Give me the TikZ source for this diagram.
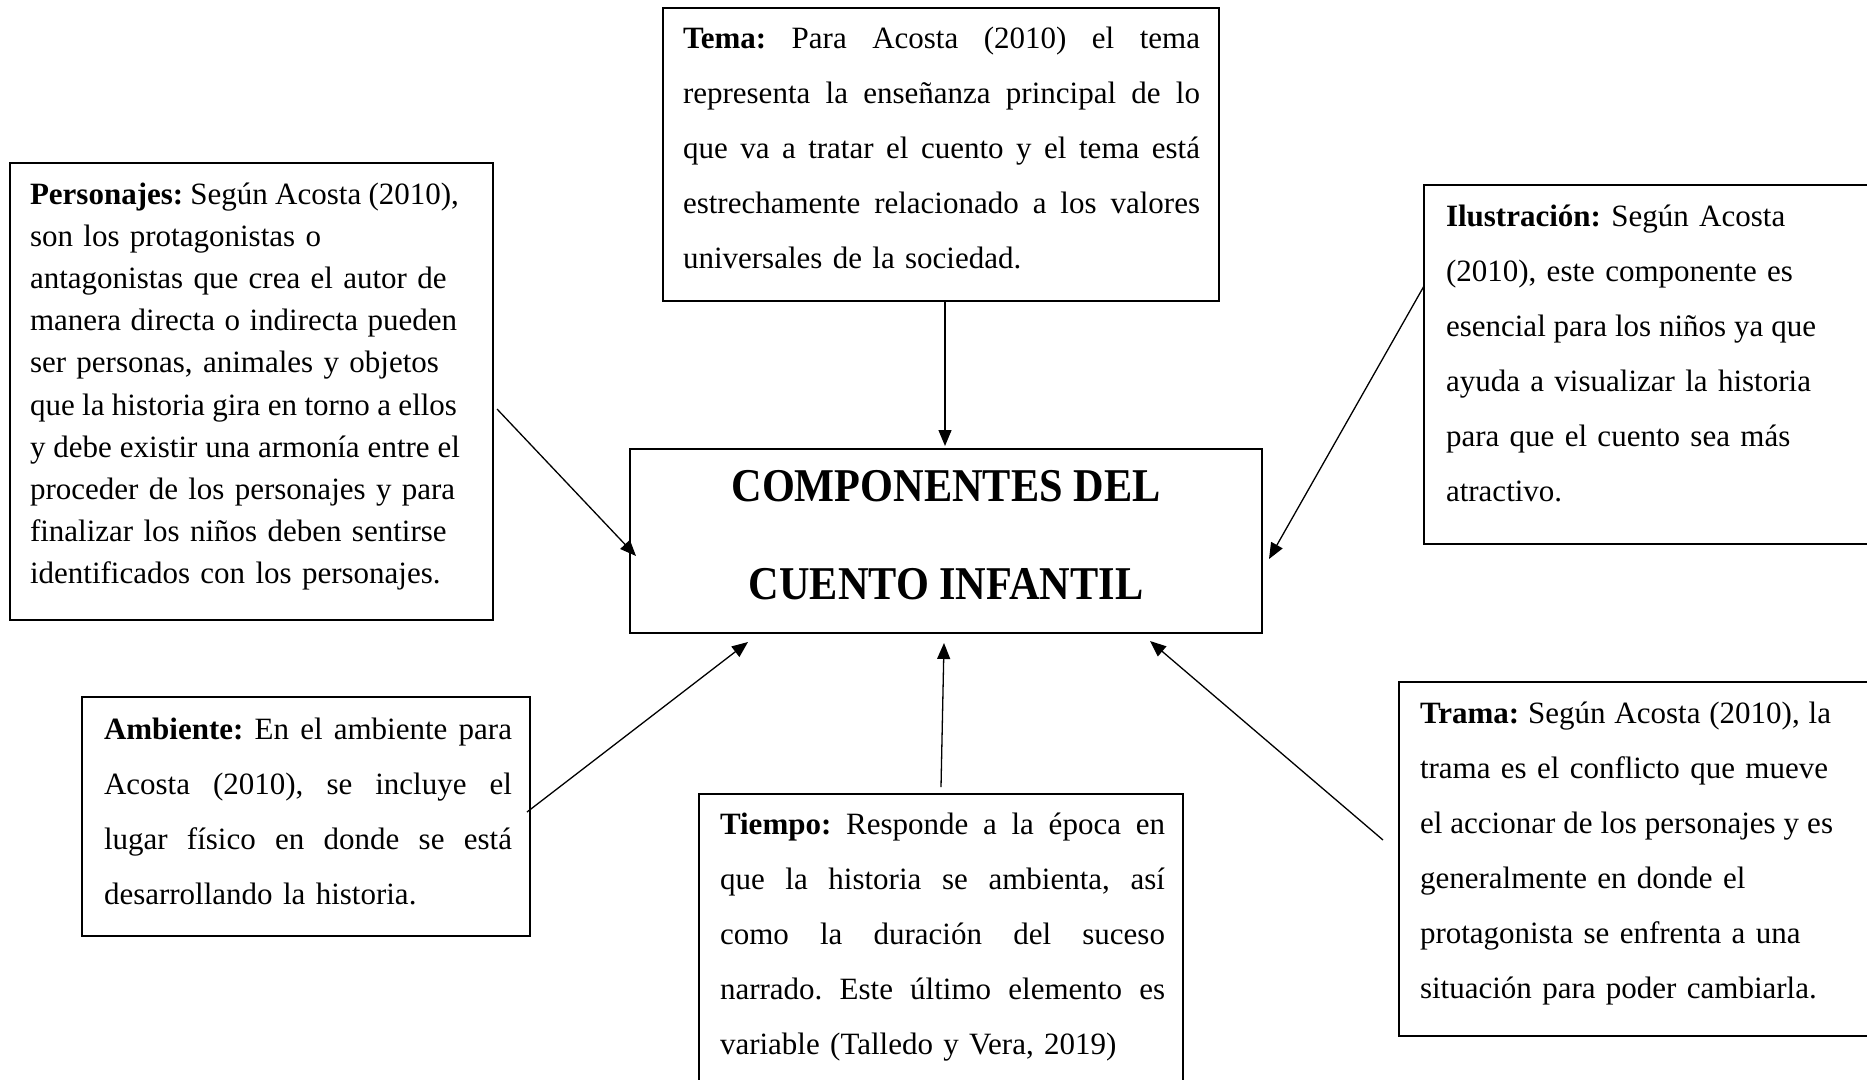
\documentclass[tikz,border=0pt]{standalone}
\usepackage{fontspec}
\usepackage{graphicx}
\setmainfont{Liberation Serif}
\usetikzlibrary{arrows.meta,calc}
\frenchspacing
\newcommand{\firstln}{\leavevmode\rule{0pt}{30pt}}
\newcommand{\jline}[2]{\leavevmode{\spaceskip=0pt plus 1fil\relax\hbox to #1{#2}}}
\begin{document}
\begin{tikzpicture}[x=1pt,y=-1pt,
  boxst/.style={draw=black,line width=1.3pt,inner sep=0pt,outer sep=0pt,anchor=north west},
  txtst/.style={inner sep=0pt,outer sep=0pt,anchor=north west,align=left,text width=520pt},
  arr/.style={line width=1.3pt,-{Triangle[length=16pt,width=13pt]}}]
\useasboundingbox (0,0) rectangle (1867,1079);
\fill[white] (0,0) rectangle (1867,1079);
\clip (0,0) rectangle (1867,1079);

% boxes
\node[boxst,minimum width=556pt,minimum height=293pt] (tema) at (663,8) {};
\node[boxst,minimum width=483pt,minimum height=457pt] (pers) at (10,163) {};
\node[boxst,minimum width=476pt,minimum height=359pt] (ilus) at (1424,185) {};
\node[boxst,minimum width=632pt,minimum height=184pt] (mainbox) at (630,449) {};
\node[boxst,minimum width=448pt,minimum height=239pt] (amb) at (82,697) {};
\node[boxst,minimum width=484pt,minimum height=306pt] (tiempo) at (699,794) {};
\node[boxst,minimum width=501pt,minimum height=354pt] (trama) at (1399,682) {};

% texts
\node[txtst,font=\fontsize{31}{55}\selectfont] (tematxt) at (683,18) {\firstln\jline{517pt}{\textbf{Tema:} Para Acosta (2010) el tema}\\
\jline{517pt}{representa la enseñanza principal de lo}\\
\jline{517pt}{que va a tratar el cuento y el tema está}\\
\jline{517pt}{estrechamente relacionado a los valores}\\
universales de la sociedad.};

\node[txtst,font=\fontsize{31}{42.2}\selectfont] (perstxt) at (30,174) {\firstln\jline{429pt}{\textbf{Personajes:} Según Acosta (2010),}\\
son los protagonistas o\\
antagonistas que crea el autor de\\
\jline{427pt}{manera directa o indirecta pueden}\\
ser personas, animales y objetos\\
\jline{427pt}{que la historia gira en torno a ellos}\\
\jline{430pt}{y debe existir una armonía entre el}\\
proceder de los personajes y para\\
finalizar los niños deben sentirse\\
identificados con los personajes.};

\node[txtst,font=\fontsize{31}{55}\selectfont] (ilustxt) at (1446,196) {\firstln\textbf{Ilustración:} Según Acosta\\
(2010), este componente es\\
\jline{370pt}{esencial para los niños ya que}\\
ayuda a visualizar la historia\\
para que el cuento sea más\\
atractivo.};

\node[inner sep=0pt,outer sep=0pt,anchor=north,align=center,font=\fontsize{47}{98}\selectfont\bfseries] (title) at (946,461) {\rule{0pt}{40pt}\scalebox{0.9}[1]{COMPONENTES DEL}\\
\scalebox{0.9}[1]{CUENTO INFANTIL}};

\node[txtst,font=\fontsize{31}{55}\selectfont] (ambtxt) at (104,709) {\firstln\jline{408pt}{\textbf{Ambiente:} En el ambiente para}\\
\jline{408pt}{Acosta (2010), se incluye el}\\
\jline{408pt}{lugar físico en donde se está}\\
desarrollando la historia.};

\node[txtst,font=\fontsize{31}{55}\selectfont] (tiempotxt) at (720,804) {\firstln\jline{445pt}{\textbf{Tiempo:} Responde a la época en}\\
\jline{445pt}{que la historia se ambienta, así}\\
\jline{445pt}{como la duración del suceso}\\
\jline{445pt}{narrado. Este último elemento es}\\
variable (Talledo y Vera, 2019)};

\node[txtst,font=\fontsize{31}{55}\selectfont] (trametxt) at (1420,693) {\firstln\jline{411pt}{\textbf{Trama:} Según Acosta (2010), la}\\
trama es el conflicto que mueve\\
\jline{413pt}{el accionar de los personajes y es}\\
generalmente en donde el\\
protagonista se enfrenta a una\\
situación para poder cambiarla.};

% connectors
\draw[arr] ($(tema.south west)+(282,0)$) -- ($(mainbox.north west)+(315,-3)$);
\draw[arr] ($(pers.north east)+(4,246)$) -- ($(mainbox.north west)+(6,107)$);
\draw[arr] ($(ilus.north west)+(0,101)$) -- ($(mainbox.north east)+(7,110)$);
\draw[arr] ($(amb.north east)+(-3,115)$) -- ($(mainbox.south west)+(118,9)$);
\draw[arr] ($(tiempo.north west)+(242,-7)$) -- ($(mainbox.south west)+(314,10)$);
\draw[arr] ($(trama.north west)+(-16,158)$) -- ($(mainbox.south east)+(-112,8)$);
\end{tikzpicture}
\end{document}
